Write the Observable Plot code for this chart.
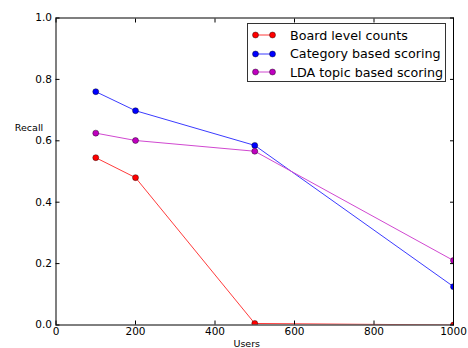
<!DOCTYPE html>
<html>
<head>
<meta charset="utf-8">
<script src="https://cdn.jsdelivr.net/npm/d3@7"></script>
<script src="https://cdn.jsdelivr.net/npm/@observablehq/plot@0.6"></script>
<style>
  body { margin: 0; background: #fff; font-family: "DejaVu Sans", sans-serif; }
  #wrap { position: relative; width: 468px; height: 348px; overflow: hidden; }
  #legend { position: absolute; left: 247px; top: 23px; width: 199px; height: 59px;
    border: 1px solid #333; background: #fff; box-sizing: border-box; font-size: 12.7px; }
  .row { position: absolute; left: 0; height: 18px; display: flex; align-items: center; }
  .row svg { margin-left: 4px; }
  .row span { margin-left: 14px; color: #000; white-space: nowrap; }
</style>
</head>
<body>
<div id="wrap"></div>
<script>
const users = [100, 200, 500, 1000];
const seriesNames = ["Board level counts", "Category based scoring", "LDA topic based scoring"];
const boardCounts = [0.545, 0.48, 0.005, 0.0];
const categoryScoring = [0.76, 0.698, 0.585, 0.125];
const ldaScoring = [0.625, 0.601, 0.566, 0.21];
const colors = ["#ff0000", "#0000ff", "#bf00bf"];
const lineColors = ["#ff3b3b", "#3b3bff", "#d048d0"];
const xTicks = [0, 200, 400, 600, 800, 1000];
const yTicks = [0.0, 0.2, 0.4, 0.6, 0.8, 1.0];

const seriesValues = [boardCounts, categoryScoring, ldaScoring];
const data = [];
seriesValues.forEach((vals, i) => vals.forEach((v, j) => data.push({series: seriesNames[i], users: users[j], recall: v})));

const chart = Plot.plot({
  width: 468, height: 348,
  marginLeft: 55.5, marginRight: 15, marginTop: 17.5, marginBottom: 23.5,
  style: {fontFamily: "DejaVu Sans, sans-serif", fontSize: "10px", background: "#fff", color: "#000"},
  x: {domain: [0, 1000], ticks: xTicks},
  y: {domain: [0, 1], ticks: yTicks},
  marks: [
    Plot.line(data, {x: "users", y: "recall", z: "series", stroke: d => lineColors[seriesNames.indexOf(d.series)], strokeWidth: 1, clip: true}),
    Plot.dot(data, {x: "users", y: "recall", fill: d => colors[seriesNames.indexOf(d.series)], stroke: "#000", strokeWidth: 0.4, r: 3, clip: true}),
    Plot.frame({stroke: "#000", strokeWidth: 1}),
    Plot.axisX({ticks: xTicks, anchor: "bottom", tickSize: -4, fill: "none", label: null}),
    Plot.axisX({ticks: xTicks, anchor: "top", tickSize: -4, fill: "none", label: null}),
    Plot.axisY({ticks: yTicks, anchor: "left", tickSize: -4, fill: "none", label: null}),
    Plot.axisY({ticks: yTicks, anchor: "right", tickSize: -4, fill: "none", label: null}),
    Plot.axisX({ticks: xTicks, anchor: "bottom", tickSize: 0, tickPadding: 3, fontSize: 10.5, tickFormat: d3.format("d"), label: null}),
    Plot.axisY({ticks: yTicks, anchor: "left", tickSize: 0, tickPadding: 4, fontSize: 10.5, tickFormat: d3.format(".1f"), label: null}),
    Plot.text(["Recall"], {frameAnchor: "left", dx: -27, dy: -44, text: d => d, fontSize: 9.5, textAnchor: "middle"}),
    Plot.text(["Users"], {frameAnchor: "bottom", dy: 15, dx: -8, text: d => d, fontSize: 9.5, textAnchor: "middle", lineAnchor: "top"})
  ]
});
const wrap = document.getElementById("wrap");
wrap.appendChild(chart);

const legend = document.createElement("div");
legend.id = "legend";
seriesNames.forEach((name, i) => {
  const row = document.createElement("div");
  row.className = "row";
  row.style.top = (2 + i * 18.5) + "px";
  row.innerHTML = `<svg width="24" height="10"><line x1="3" y1="5" x2="21" y2="5" stroke="${lineColors[i]}" stroke-width="1"/>` +
    `<circle cx="3.5" cy="5" r="3" fill="${colors[i]}" stroke="#000" stroke-width="0.4"/>` +
    `<circle cx="20.5" cy="5" r="3" fill="${colors[i]}" stroke="#000" stroke-width="0.4"/></svg><span>${name}</span>`;
  legend.appendChild(row);
});
wrap.appendChild(legend);
</script>
</body>
</html>
